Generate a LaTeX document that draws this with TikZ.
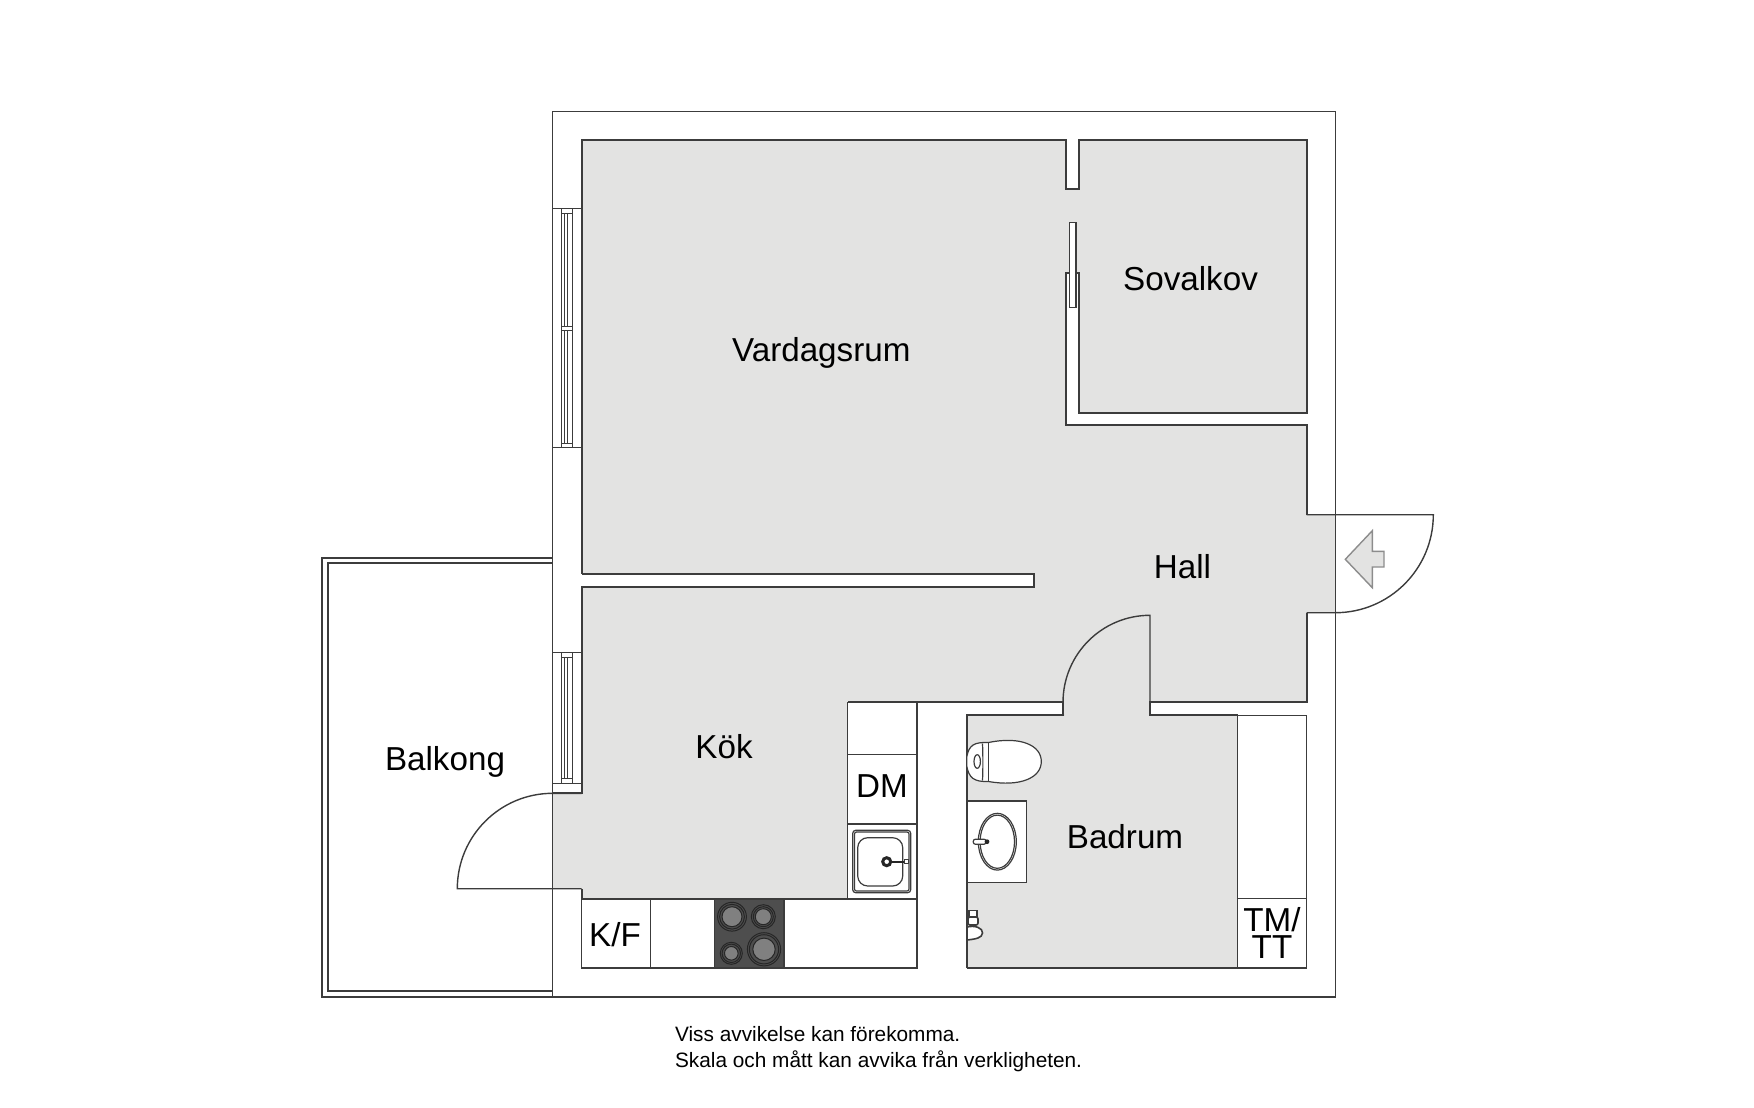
\documentclass[tikz,border=0pt]{standalone}
\usepackage{fontspec}
\setmainfont{Liberation Sans}
\usepackage{tikz}
\definecolor{floorgray}{RGB}{227,227,226}
\definecolor{wallline}{RGB}{60,60,60}
\definecolor{hobdark}{RGB}{78,78,78}
\definecolor{hobdisc}{RGB}{128,128,128}
\tikzstyle{wall} = [draw=wallline, line width=0.85pt, line join=miter]
\tikzstyle{thinwall} = [draw=wallline, line width=0.7pt]
\tikzstyle{fixture} = [draw=wallline, line width=0.6pt, fill=white]
\tikzstyle{pane} = [draw=wallline, line width=0.45pt]
\tikzstyle{roomlabel} = [anchor=base, inner sep=0pt, font=\fontsize{16.6pt}{13.65pt}\selectfont, text=black]
\tikzstyle{notelabel} = [anchor=base west, inner sep=0pt, font=\fontsize{10.4pt}{10.4pt}\selectfont, text=black]
\tikzstyle{ring} = [draw=black!85, line width=0.5pt, fill=hobdark]
\tikzstyle{disc} = [draw=black!85, line width=0.5pt, fill=hobdisc]
\newcommand{\windowbars}[2]{
\draw[pane] (552.7,#1) -- (581.7,#1);
\draw[pane] (552.7,#2) -- (581.7,#2);
\draw[pane] (561.7,#1) rectangle (572.7,#2);
\draw[pane] (564,#1) -- (564,#2);
\draw[pane] (567.7,#1) -- (567.7,#2);
}
\begin{document}
\begin{tikzpicture}[x=0.5pt,y=-0.5pt]
\useasboundingbox (0,0) rectangle (1754,1107);
% floor
\fill[floorgray] (581.7,140) -- (1066,140) -- (1066,189.3) -- (1078.7,189.3) -- (1078.7,140)
  -- (1306.7,140) -- (1306.7,412.7) -- (1078.7,412.7) -- (1078.7,273.3) -- (1066,273.3) -- (1066,425)
  -- (1306.7,425) -- (1306.7,514.7) -- (1335.5,514.7) -- (1335.5,612.7) -- (1306.7,612.7) -- (1306.7,702.3)
  -- (1150,702.3) -- (1150,715.3) -- (1237.7,715.3) -- (1237.7,968) -- (966.7,968) -- (966.7,715.3)
  -- (1063.3,715.3) -- (1063.3,702.3) -- (847.7,702.3) -- (847.7,899) -- (581.7,899) -- (581.7,888.7)
  -- (552.7,888.7) -- (552.7,793.3) -- (581.7,793.3) -- (581.7,587.3) -- (1034,587.3) -- (1034,573.7)
  -- (581.7,573.7) -- cycle;
\draw[wall] (581.7,573.7) -- (581.7,140) -- (1066,140) -- (1066,189.3) -- (1078.7,189.3) -- (1078.7,140)
  -- (1306.7,140) -- (1306.7,412.7) -- (1078.7,412.7) -- (1078.7,273.3) -- (1066,273.3) -- (1066,425)
  -- (1306.7,425) -- (1306.7,514.7);
\draw[wall] (1306.7,612.7) -- (1306.7,702.3) -- (1150,702.3) -- (1150,715.3) -- (1237.7,715.3);
\draw[wall] (966.7,968) -- (966.7,715.3) -- (1063.3,715.3) -- (1063.3,702.3) -- (847.7,702.3);
\draw[wall] (581.7,899) -- (581.7,888.7);
\draw[wall] (552.7,793.3) -- (581.7,793.3) -- (581.7,587.3) -- (1034,587.3) -- (1034,573.7) -- (581.7,573.7);
% outer walls and balcony
\draw[thinwall] (552.7,111.3) rectangle (1335.5,997);
\draw[wall] (552.7,557.7) -- (322.3,557.7) -- (322.3,996.8) -- (552.7,996.8);
\draw[wall] (552.7,563) -- (327.7,563) -- (327.7,991.3) -- (552.7,991.3);
% windows
\windowbars{208.7}{447.3}
\draw[pane, fill=white] (561.7,208.7) rectangle (572.7,213.3);
\draw[pane, fill=white] (561.7,326) rectangle (572.7,330.7);
\draw[pane, fill=white] (561.7,443) rectangle (572.7,447.3);
\windowbars{652.7}{783.3}
\draw[pane, fill=white] (561.7,652.7) rectangle (572.7,657.3);
\draw[pane, fill=white] (561.7,778.5) rectangle (572.7,783.3);
% doors
\draw[fixture] (1069.7,222.7) rectangle (1076,307.3);
\draw[wall] (1066,273.3) -- (1066,307.3);
\draw[wall] (1078.7,273.3) -- (1078.7,307.3);
\draw[thinwall] (1306.7,514.7) -- (1433.3,514.7) arc[start angle=0, end angle=-90, radius=49pt] -- (1306.7,612.7);
\draw[thinwall] (1150,702.3) -- (1150,615.3) arc[start angle=90, end angle=180, radius=43.5pt] -- (1063.3,715.3);
\draw[thinwall] (581.7,888.7) -- (457.3,888.7) arc[start angle=180, end angle=90, radius=47.7pt] -- (581.7,793.3);
\draw[draw=black!45, line width=0.7pt, fill=floorgray] (1345.3,559.3) -- (1372.3,530.7) -- (1372.3,551.3)
  -- (1384,551.3) -- (1384,567) -- (1372.3,567) -- (1372.3,587.7) -- cycle;
% kitchen
\draw[thinwall, fill=white] (581.7,899) rectangle (917,968);
\draw[thinwall, fill=white] (847.7,702.3) rectangle (917,899);
\draw[thinwall] (847.7,754.3) -- (917,754.3);
\draw[thinwall] (847.7,824) -- (917,824);
\draw[thinwall] (650.7,899) -- (650.7,968);
\draw[thinwall, fill=hobdark] (714.7,899) rectangle (784,968);
\draw[ring] (732,916.7) circle (7.2pt);
\draw[ring] (732,916.7) circle (6.2pt);
\draw[disc] (732,916.7) circle (5pt);
\draw[ring] (763.3,916.7) circle (6pt);
\draw[ring] (763.3,916.7) circle (5pt);
\draw[disc] (763.3,916.7) circle (4pt);
\draw[ring] (731.3,953.3) circle (5.5pt);
\draw[ring] (731.3,953.3) circle (4.6pt);
\draw[disc] (731.3,953.3) circle (3.4pt);
\draw[ring] (764,949.3) circle (8.3pt);
\draw[ring] (764,949.3) circle (7.3pt);
\draw[disc] (764,949.3) circle (5.6pt);
\draw[fixture, rounded corners=1.5pt] (852.7,830.3) rectangle (910.7,892.7);
\draw[fixture, rounded corners=1pt] (854.5,832) rectangle (909,891);
\draw[fixture, rounded corners=5pt] (857.7,837.7) rectangle (902.7,886);
\draw[draw=black!85, line width=1pt] (886.7,861.7) -- (904.5,861.7);
\draw[fixture, line width=0.4pt] (904.5,859.7) rectangle (908.3,863.7);
\draw[draw=black!85, line width=1.5pt, fill=white] (886.7,861.7) circle (2pt);
% bathroom
\draw[thinwall, fill=white] (1237.7,715.3) rectangle (1306.7,968);
\draw[thinwall] (1237.7,898.7) -- (1306.7,898.7);
\draw[thinwall] (966.7,968) -- (1237.7,968);
\draw[thinwall, fill=white] (966.7,801) rectangle (1026.7,882.3);
\draw[wall] (966.7,801) -- (966.7,882.3);
\draw[fixture] (997.3,841.7) ellipse (9.5pt and 14.2pt);
\draw[fixture] (997.3,841.7) ellipse (8.6pt and 13.3pt);
\draw[fixture, rounded corners=1pt] (973.3,839.2) rectangle (986,844.2);
\fill[black!85] (987,841.7) circle (1.2pt);
\draw[fixture] (966.7,757) .. controls (969,745) and (974,742) .. (988.5,742.5)
  .. controls (1020,736) and (1041.3,745) .. (1041.3,761.5)
  .. controls (1041.3,778) and (1020,787) .. (988.5,781.5)
  .. controls (974,782) and (969,778) .. (966.7,766) -- cycle;
\draw[fixture, fill=none] (982.5,743.5) .. controls (983,755) and (983,770) .. (982.5,780.5);
\draw[fixture, fill=none] (988.5,742.5) -- (988.5,781.5);
\draw[fixture, line width=0.6pt] (977.2,761.5) ellipse (1.6pt and 3.4pt);
\draw[fixture, line width=0.8pt] (969,910.5) rectangle (977,917);
\draw[fixture, line width=0.8pt, rounded corners=1pt] (968,917) rectangle (978,925);
\draw[fixture, line width=0.8pt] (967,927) .. controls (975,925) and (983,928) .. (982.5,933) .. controls (982,938) and (976,939) .. (967,940) -- cycle;
% labels
\node (vardagsrum) [roomlabel] at (821.3,361.7) {Vardagsrum};
\node (sovalkov) [roomlabel] at (1190.5,290.7) {Sovalkov};
\node (hall) [roomlabel] at (1182.5,578.3) {Hall};
\node (balkong) [roomlabel] at (445,770.7) {Balkong};
\node (kok) [roomlabel] at (724,758.3) {Kök};
\node (dm) [roomlabel] at (882,797.7) {DM};
\node (kf) [roomlabel] at (615,946) {K/F};
\node (badrum) [roomlabel] at (1125,848.3) {Badrum};
\node (tmtt) [roomlabel, align=center] at (1272,958.3) {TM/\\TT};
\node (note1) [notelabel] at (674.7,1041) {Viss avvikelse kan förekomma.};
\node (note2) [notelabel] at (674.7,1067.5) {Skala och mått kan avvika från verkligheten.};
\end{tikzpicture}
\end{document}
